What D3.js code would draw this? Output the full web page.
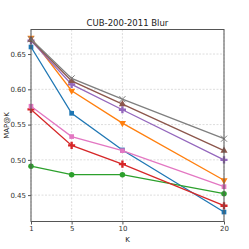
<!DOCTYPE html>
<html><head><meta charset="utf-8">
<script src="https://cdn.jsdelivr.net/npm/d3@7"></script>
<style>body{margin:0;background:#fff}svg{display:block}</style>
</head><body><div id="c"></div>
<script>
const kValues = [1, 5, 10, 20];
const xTicks = [1, 5, 10, 20];
const yTicks = [0.45, 0.50, 0.55, 0.60, 0.65];
const seriesBlue   = [0.660, 0.566, 0.514, 0.426];
const seriesOrange = [0.673, 0.598, 0.552, 0.471];
const seriesGreen  = [0.491, 0.479, 0.479, 0.452];
const seriesRed    = [0.5715, 0.5205, 0.494, 0.435];
const seriesPurple = [0.669, 0.607, 0.571, 0.500];
const seriesBrown  = [0.670, 0.612, 0.579, 0.513];
const seriesPink   = [0.576, 0.533, 0.513, 0.462];
const seriesGray   = [0.671, 0.6155, 0.586, 0.530];
const titleText = "CUB-200-2011 Blur";
const xLabel = "K", yLabel = "MAP@K";

const series = [
  {v: seriesBlue, c: "#1f77b4", m: "square"},
  {v: seriesOrange, c: "#ff7f0e", m: "tridown"},
  {v: seriesGreen, c: "#2ca02c", m: "circle"},
  {v: seriesRed, c: "#d62728", m: "plus"},
  {v: seriesPurple, c: "#9467bd", m: "plus"},
  {v: seriesBrown, c: "#8c564b", m: "triup"},
  {v: seriesPink, c: "#e377c2", m: "square"},
  {v: seriesGray, c: "#7f7f7f", m: "x"}
];

const W = 249, H = 249;
const m = {l: 31, r: 25, t: 29.5, b: 27.5};
const svg = d3.select("#c").append("svg").attr("width", W).attr("height", H);
const x = d3.scaleLinear().domain([1, 20]).range([m.l, W - m.r]);
const y = d3.scaleLinear().domain([0.4126, 0.6848]).range([H - m.b, m.t]);

// grid
const g = svg.append("g");
g.selectAll(".gx").data(xTicks).enter().append("line")
  .attr("x1", d => x(d)).attr("x2", d => x(d)).attr("y1", m.t).attr("y2", H - m.b)
  .attr("stroke", "#cfcfcf").attr("stroke-width", 0.7).attr("stroke-dasharray", "2,1.5");
g.selectAll(".gy").data(yTicks).enter().append("line")
  .attr("y1", d => y(d)).attr("y2", d => y(d)).attr("x1", m.l).attr("x2", W - m.r)
  .attr("stroke", "#cfcfcf").attr("stroke-width", 0.7).attr("stroke-dasharray", "2,1.5");

const line = d3.line().x((d, i) => x(kValues[i])).y(d => y(d));
const sym = {
  square: d3.symbol().type(d3.symbolSquare).size(22),
  circle: d3.symbol().type(d3.symbolCircle).size(24),
  plus: d3.symbol().type(d3.symbolCross).size(28),
  x: d3.symbol().type(d3.symbolX).size(26),
  triup: d3.symbol().type(d3.symbolTriangle).size(22),
  tridown: d3.symbol().type(d3.symbolTriangle).size(22)
};
const dg = svg.append("g");
series.forEach(s => {
  dg.append("path").attr("d", line(s.v)).attr("fill", "none").attr("stroke", s.c).attr("stroke-width", 1.3);
  s.v.forEach((v, i) => {
    const p = dg.append("path").attr("d", sym[s.m]())
      .attr("transform", `translate(${x(kValues[i])},${y(v)})` + (s.m === "tridown" ? " rotate(180)" : ""));
    if (s.m === "x") p.attr("fill", "none").attr("stroke", s.c).attr("stroke-width", 1);
    else p.attr("fill", s.c);
  });
});

// frame
svg.append("rect").attr("x", m.l).attr("y", m.t).attr("width", W - m.l - m.r).attr("height", H - m.t - m.b)
  .attr("fill", "none").attr("stroke", "#555").attr("stroke-width", 1);

const xa = svg.append("g").attr("transform", `translate(0,${H - m.b})`)
  .call(d3.axisBottom(x).tickValues(xTicks).tickFormat(d3.format("d")).tickSize(3).tickPadding(2));
const ya = svg.append("g").attr("transform", `translate(${m.l},0)`)
  .call(d3.axisLeft(y).tickValues(yTicks).tickFormat(d3.format(".2f")).tickSize(3).tickPadding(2));
[xa, ya].forEach(a => {
  a.select(".domain").remove();
  a.selectAll("line").attr("stroke", "#555");
  a.selectAll("text").attr("fill", "#333").style("font-family", "DejaVu Sans").style("font-size", "7px");
});

svg.append("text").attr("x", (m.l + W - m.r) / 2).attr("y", 25.5).attr("text-anchor", "middle")
  .style("font-family", "DejaVu Sans").style("font-size", "8.5px").attr("fill", "#222").text(titleText);
svg.append("text").attr("x", (m.l + W - m.r) / 2).attr("y", 242).attr("text-anchor", "middle")
  .style("font-family", "DejaVu Sans").style("font-size", "7px").attr("fill", "#222").text(xLabel);
svg.append("text").attr("transform", `translate(9,${(m.t + H - m.b) / 2}) rotate(-90)`).attr("text-anchor", "middle")
  .style("font-family", "DejaVu Sans").style("font-size", "7px").attr("fill", "#222").text(yLabel);
</script></body></html>
